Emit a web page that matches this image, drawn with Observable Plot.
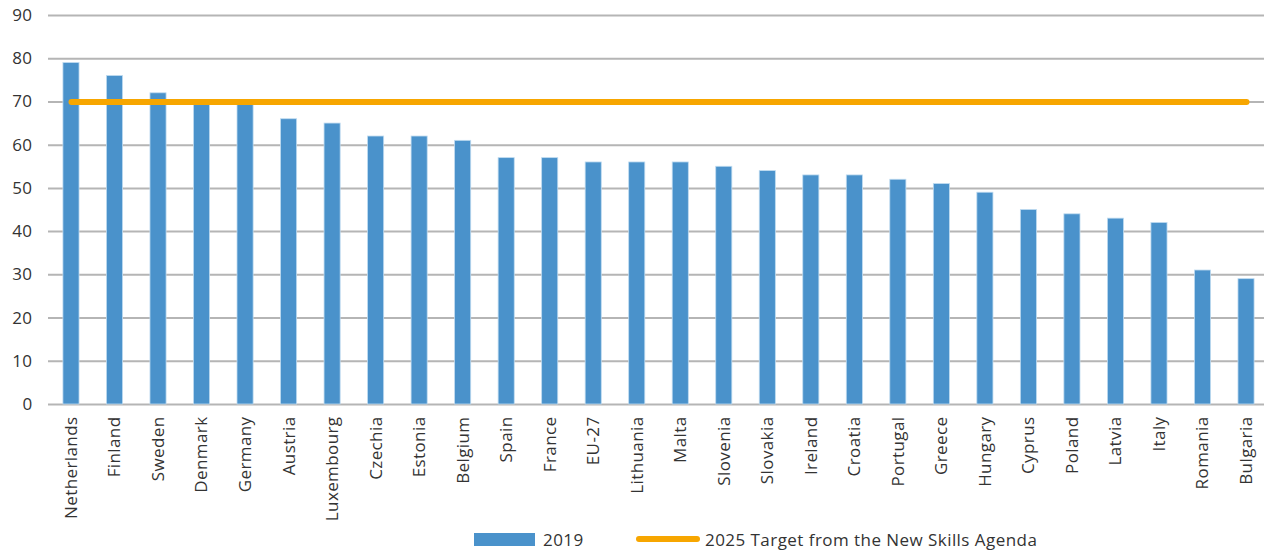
<!DOCTYPE html>
<html>
<head>
<meta charset="utf-8">
<script src="https://cdn.jsdelivr.net/npm/d3@7"></script>
<script src="https://cdn.jsdelivr.net/npm/@observablehq/plot@0.6"></script>
<style>
  html, body { margin: 0; padding: 0; background: #fff; }
  body { width: 1264px; height: 551px; overflow: hidden; font-family: "Open Sans", sans-serif; }
  #chart { position: relative; }
  #chart svg text { letter-spacing: 0.4px; }
  .legend { position: absolute; top: 527px; left: 0; width: 1264px; height: 24px; font-family: "Open Sans", sans-serif; font-size: 17px; letter-spacing: 0.45px; color: #333; }
  .legend .item { position: absolute; top: 0; display: flex; align-items: center; height: 24px; }
  .sw-bar { width: 61px; height: 13px; background: #4A92CB; margin-right: 8px; }
  .sw-line { width: 64px; height: 6px; border-radius: 3px; background: #F7A600; margin-right: 5px; }
</style>
</head>
<body>
<div id="chart"></div>
<div class="legend">
  <div class="item" style="left:474px"><div class="sw-bar"></div><span>2019</span></div>
  <div class="item" style="left:636px"><div class="sw-line"></div><span>2025 Target from the New Skills Agenda</span></div>
</div>
<script>
const countries = ["Netherlands","Finland","Sweden","Denmark","Germany","Austria","Luxembourg","Czechia","Estonia","Belgium","Spain","France","EU-27","Lithuania","Malta","Slovenia","Slovakia","Ireland","Croatia","Portugal","Greece","Hungary","Cyprus","Poland","Latvia","Italy","Romania","Bulgaria"];
const values2019 = [79,76,72,70,70,66,65,62,62,61,57,57,56,56,56,55,54,53,53,52,51,49,45,44,43,42,31,29];
const target2025 = 70;
const yTicks = [0,10,20,30,40,50,60,70,80,90];

const data = countries.map((c, i) => ({country: c, value: values2019[i], target: target2025}));

const chart = Plot.plot({
  width: 1264,
  height: 527,
  marginTop: 15,
  marginBottom: 123,
  marginLeft: 48,
  marginRight: 0,
  style: {fontFamily: "'Open Sans', sans-serif", fontSize: "17px", color: "#333", background: "#fff"},
  x: {domain: countries, range: [48, 1269], round: false, paddingInner: 0.63, paddingOuter: 0.343, label: null, tickSize: 0, tickPadding: 12, tickRotate: -90},
  y: {domain: [0, 90], ticks: yTicks, label: null, tickSize: 0, tickPadding: 16},
  marks: [
    Plot.gridY(yTicks, {stroke: "#B5B5B5", strokeOpacity: 1, strokeWidth: 2}),
    Plot.barY(data, {x: "country", y: "value", fill: "#4A92CB", stroke: "#BFDBF0", strokeWidth: 0.8}),
    Plot.lineY(data, {x: "country", y: "target", stroke: "#F7A600", strokeWidth: 6, strokeLinecap: "round"})
  ]
});
document.getElementById("chart").appendChild(chart);
</script>
</body>
</html>
